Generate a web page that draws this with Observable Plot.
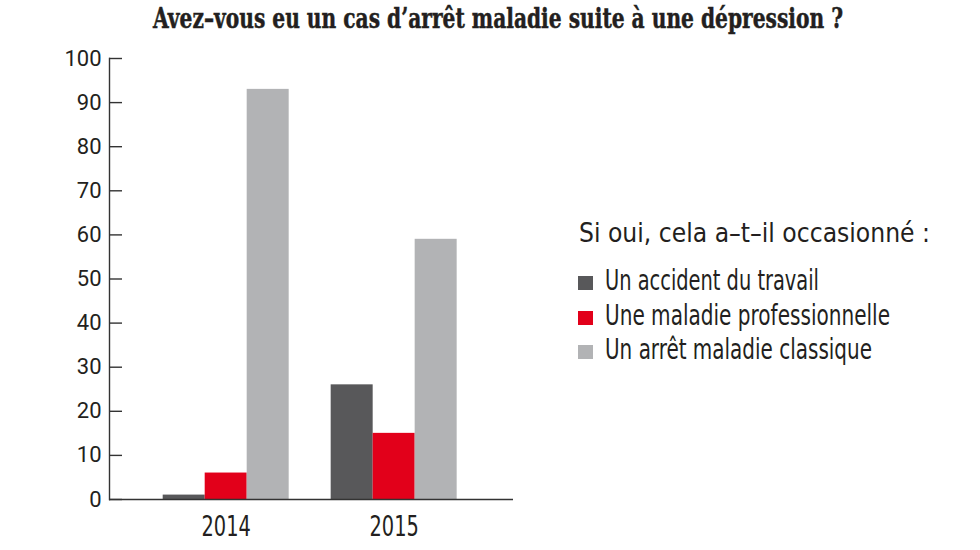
<!DOCTYPE html>
<html><head><meta charset="utf-8">
<script src="https://cdn.jsdelivr.net/npm/d3@7"></script>
<script src="https://cdn.jsdelivr.net/npm/@observablehq/plot@0.6"></script>
<style>
body{margin:0;background:#fff;}
#wrap{position:relative;width:980px;height:550px;overflow:hidden;color:#231f20;}
#wrap svg{position:absolute;left:0;top:0;}
.abs{position:absolute;white-space:nowrap;line-height:1;transform-origin:0 0;}
.sw{position:absolute;width:15px;height:14px;}
</style></head><body><div id="wrap"></div>
<script>
const years = ["2014", "2015"];
const seriesNames = ["Un accident du travail", "Une maladie professionnelle", "Un arrêt maladie classique"];
const accidentTravail = [1, 26];
const maladiePro = [6, 15];
const arretClassique = [93, 59];
const seriesValues = [accidentTravail, maladiePro, arretClassique];
const seriesColors = ["#58585a", "#e2001a", "#b2b3b5"];
const yTicks = [0, 10, 20, 30, 40, 50, 60, 70, 80, 90, 100];
const titleText = "Avez–vous eu un cas d’arrêt maladie suite à une dépression ?";
const legendTitle = "Si oui, cela a–t–il occasionné :";

const NARROW = '"Liberation Sans Narrow","DejaVu Sans Condensed",Roboto,sans-serif';

const rows = years.flatMap((yr, i) => seriesNames.map((s, j) => ({year: yr, series: s, key: yr + "|" + s, value: seriesValues[j][i]})));
const xDomain = years.flatMap((yr, i) => {
  const keys = seriesNames.map(s => yr + "|" + s);
  return i ? ["gap" + i, ...keys] : keys;
});
const tickKeys = years.map(yr => yr + "|" + seriesNames[1]);

const chart = Plot.plot({
  width: 560, height: 550,
  marginTop: 58, marginBottom: 51, marginLeft: 109, marginRight: 47,
  style: {fontFamily: "Roboto, sans-serif", color: "#231f20", background: "transparent", overflow: "visible"},
  x: {type: "band", domain: xDomain, paddingInner: 0, paddingOuter: 1.31, align: 0.488, round: false, label: null},
  y: {domain: [0, 100], label: null},
  color: {domain: seriesNames, range: seriesColors},
  marks: [
    Plot.barY(rows, {x: "key", y: "value", fill: "series"}),
    Plot.frame({anchor: "left", stroke: "#333", strokeWidth: 1.4}),
    Plot.ruleY([0], {stroke: "#333", strokeWidth: 1.4}),
    Plot.axisY(yTicks, {tickSize: 13, dx: 13, tickFormat: () => "", stroke: "#333", strokeWidth: 1.4, label: null}),
    Plot.axisY(yTicks, {tickSize: 0, tickPadding: 8, fontSize: 22, label: null}),
    Plot.axisX(tickKeys, {tickSize: 0, tickPadding: 17, tickFormat: k => k.split("|")[0], fontSize: 28, fontFamily: NARROW, label: null})
  ]
});
const wrap = document.getElementById("wrap");
wrap.appendChild(chart);
// condense the year labels horizontally
d3.select(chart).selectAll('g[aria-label="x-axis tick label"] text')
  .attr("transform", function () { return (this.getAttribute("transform") || "") + " scale(0.77,1)"; });

function addText(txt, fontCss, left, baseline, width) {
  const el = document.createElement("div");
  el.className = "abs";
  el.style.cssText += fontCss;
  el.textContent = txt;
  const mark = document.createElement("span");
  mark.style.cssText = "display:inline-block;width:0;height:0;vertical-align:baseline";
  el.appendChild(mark);
  el.style.left = left + "px";
  el.style.top = "0px";
  wrap.appendChild(el);
  const r = el.getBoundingClientRect();
  const b = mark.getBoundingClientRect().top - r.top;
  el.style.top = (baseline - b) + "px";
  if (width) el.style.transform = `scaleX(${width / r.width})`;
  return el;
}

addText(titleText, 'font-family:"DejaVu Serif","Liberation Serif",serif;font-weight:bold;font-size:27px;color:#231f20;-webkit-text-stroke:0.5px #231f20;', 153, 28, 690);
addText(legendTitle, `font-family:${NARROW};font-size:27px;`, 579, 242, 351);
const itemBaselines = [290, 325, 359];
const itemWidths = [214, 285, 267];
seriesNames.forEach((s, i) => {
  const sw = document.createElement("div");
  sw.className = "sw";
  sw.style.left = "578px";
  sw.style.top = (itemBaselines[i] - 14) + "px";
  sw.style.background = seriesColors[i];
  wrap.appendChild(sw);
  addText(s, `font-family:${NARROW};font-size:28px;`, 605, itemBaselines[i], itemWidths[i]);
});
</script></body></html>
